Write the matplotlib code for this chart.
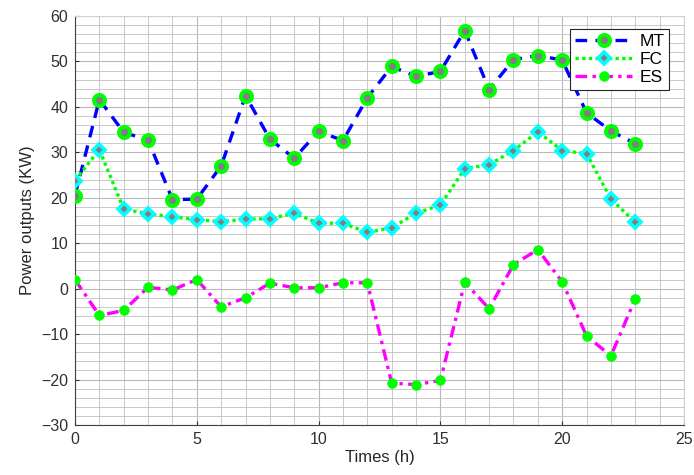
import matplotlib
matplotlib.use("Agg")
import matplotlib.pyplot as plt
from matplotlib.ticker import MultipleLocator

hours = list(range(24))
mt = [20.5, 41.6, 34.4, 32.7, 19.6, 19.7, 27.0, 42.5, 32.9, 28.7, 34.6, 32.6,
      42.0, 48.9, 46.7, 47.8, 56.8, 43.8, 50.4, 51.3, 50.3, 38.7, 34.7, 31.9]
fc = [23.8, 30.6, 17.5, 16.5, 15.8, 15.2, 14.7, 15.3, 15.4, 16.6, 14.4, 14.4,
      12.4, 13.4, 16.6, 18.4, 26.4, 27.3, 30.4, 34.5, 30.4, 29.7, 19.7, 14.6]
es = [2.0, -5.9, -4.8, 0.3, -0.3, 2.0, -4.0, -2.0, 1.2, 0.2, 0.2, 1.3,
      1.3, -20.8, -21.1, -20.2, 1.4, -4.4, 5.3, 8.6, 1.5, -10.4, -14.8, -2.2]

plt.rcParams['font.family'] = ['Liberation Sans', 'DejaVu Sans']

fig = plt.figure(figsize=(6.94, 4.75), dpi=100)
ax = fig.add_axes([75/694, 50/475, 609/694, 409/475])

ax.plot(hours, mt, color='blue', linestyle=(0, (3.5, 2.5)), linewidth=2.4,
        marker='o', markersize=8, markerfacecolor='gray',
        markeredgecolor=(0, 1, 0), markeredgewidth=2.8, label='MT', zorder=3)
ax.plot(hours, fc, color=(0, 1, 0), linestyle=(0, (1, 1)), linewidth=2.4,
        marker='D', markersize=6.5, markerfacecolor='gray',
        markeredgecolor='cyan', markeredgewidth=2.6, label='FC', zorder=3)
ax.plot(hours, es, color='magenta', linestyle=(0, (3.5, 1.6, 1, 1.6)), linewidth=2.4,
        marker='o', markersize=7, markerfacecolor=(0, 1, 0),
        markeredgecolor=(0, 1, 0), markeredgewidth=0.5, label='ES', zorder=3)

ax.set_xlim(0, 25)
ax.set_ylim(-30, 60)
ax.xaxis.set_major_locator(MultipleLocator(5))
ax.xaxis.set_minor_locator(MultipleLocator(1))
ax.yaxis.set_major_locator(MultipleLocator(10))
ax.yaxis.set_minor_locator(MultipleLocator(2))
ax.grid(which='major', color='#b8b8b8', linewidth=0.8)
ax.grid(which='minor', color='#c0c0c0', linewidth=0.6)
ax.set_axisbelow(True)
ax.tick_params(which='both', direction='in', labelsize=11.5, colors='#303030')
ax.tick_params(which='minor', length=0)
ax.tick_params(which='major', length=3, pad=5)
for s in ['top', 'right']:
    ax.spines[s].set_color('#d0d0d0')
for s in ['left', 'bottom']:
    ax.spines[s].set_color('#404040')

ax.set_xlabel('Times (h)', fontsize=12, color='#262626', labelpad=2)
ax.set_ylabel('Power outputs (KW)', fontsize=12, color='#262626', labelpad=4)

leg = ax.legend(loc='upper right', bbox_to_anchor=(0.976, 0.968), borderaxespad=0,
                fontsize=12.5, handlelength=3.3, fancybox=False, edgecolor='#262626',
                framealpha=1, borderpad=0.3, labelspacing=0.15, handletextpad=0.4)
leg.get_frame().set_linewidth(0.8)

fig.savefig('out.png', dpi=100)
